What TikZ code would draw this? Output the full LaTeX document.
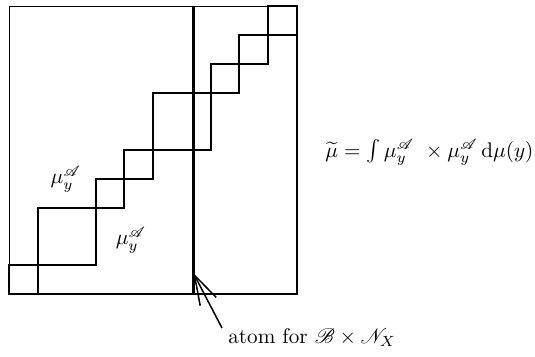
\documentclass[tikz,border=0pt]{standalone}
\usepackage{mathrsfs}
\usetikzlibrary{arrows.meta}
\begin{document}
\begin{tikzpicture}[x=0.473pt,y=-0.473pt,
  sq/.style={line width=0.95pt},
  outerbox/.style={line width=0.65pt},
  atomline/.style={line width=1.4pt},
  pointer/.style={line width=0.7pt,-{Straight Barb[length=14pt,width=8.5pt]}},
  lbl/.style={inner sep=0pt}]
\useasboundingbox (0,0) rectangle (535,356);
\begin{scope}[shift={(9.3,294)},x=13.6pt,y=13.6pt]
  \draw[outerbox] (0,0) rectangle (10,10);
  \foreach \a/\b in {0/1,1/3,3/4,4/5,5/7,7/8,8/9,9/10}
    \draw[sq] (\a,\a) rectangle (\b,\b);
  \draw[atomline] (6.4,0) -- (6.4,10);
  \coordinate (tip) at (6.4,0.73);
\end{scope}
\coordinate (tail) at (222,328);
\node[lbl] (m1) at (66,179) {$\mu_y^{\mathscr{A}}$};
\node[lbl] (m2) at (131,240) {$\mu_y^{\mathscr{A}}$};
\node[lbl,anchor=base west] (form) at (325,157)
  {$\widetilde{\mu}=\int\mu_y^{\mathscr{A}}\ \times\mu_y^{\mathscr{A}}\,\mathrm{d}\mu(y)$};
\node[lbl,anchor=base west] (atom) at (228,343) {atom for $\mathscr{B}\times\mathscr{N}_X$};
\draw[pointer] (tail) -- (tip);
\end{tikzpicture}
\end{document}
